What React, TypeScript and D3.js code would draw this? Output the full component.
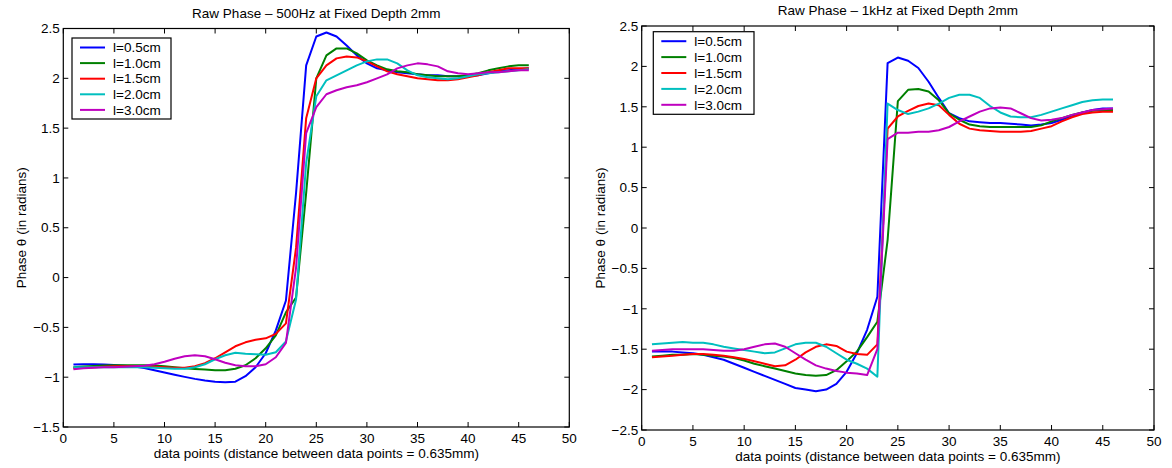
import React from "react";
import * as d3 from "d3";

const seriesNames = ["l=0.5cm", "l=1.0cm", "l=1.5cm", "l=2.0cm", "l=3.0cm"];
const seriesColors = ["#0000ff", "#008000", "#ff0000", "#00bfbf", "#bf00bf"];

// 500Hz
const hz500_05 = [-0.873, -0.87, -0.87, -0.872, -0.878, -0.885, -0.893, -0.907, -0.93, -0.953, -0.975, -0.997, -1.017, -1.033, -1.045, -1.05, -1.045, -0.99, -0.9, -0.76, -0.53, -0.23, 0.85, 2.13, 2.42, 2.46, 2.42, 2.33, 2.23, 2.15, 2.1, 2.08, 2.06, 2.05, 2.04, 2.03, 2.03, 2.02, 2.02, 2.02, 2.03, 2.05, 2.07, 2.08, 2.09, 2.1];
const hz500_10 = [-0.9, -0.893, -0.887, -0.883, -0.88, -0.88, -0.88, -0.88, -0.883, -0.89, -0.9, -0.91, -0.917, -0.923, -0.93, -0.93, -0.915, -0.88, -0.81, -0.71, -0.58, -0.35, -0.2, 0.85, 2.0, 2.23, 2.3, 2.3, 2.25, 2.18, 2.13, 2.09, 2.07, 2.06, 2.04, 2.03, 2.02, 2.02, 2.02, 2.03, 2.05, 2.08, 2.1, 2.12, 2.13, 2.13];
const hz500_15 = [-0.91, -0.905, -0.9, -0.895, -0.89, -0.89, -0.89, -0.89, -0.895, -0.9, -0.905, -0.905, -0.89, -0.86, -0.81, -0.75, -0.69, -0.65, -0.625, -0.61, -0.565, -0.46, 0.3, 1.6, 2.0, 2.13, 2.2, 2.22, 2.21, 2.17, 2.12, 2.07, 2.04, 2.02, 2.0, 1.99, 1.98, 1.98, 1.99, 2.01, 2.03, 2.06, 2.08, 2.1, 2.1, 2.1];
const hz500_20 = [-0.9, -0.9, -0.9, -0.9, -0.9, -0.9, -0.9, -0.9, -0.905, -0.91, -0.915, -0.915, -0.9, -0.87, -0.82, -0.78, -0.755, -0.765, -0.77, -0.775, -0.75, -0.64, -0.22, 1.15, 1.82, 1.98, 2.03, 2.08, 2.13, 2.17, 2.19, 2.19, 2.15, 2.08, 2.03, 2.01, 2.0, 1.99, 2.0, 2.02, 2.04, 2.05, 2.06, 2.07, 2.08, 2.09];
const hz500_30 = [-0.92, -0.91, -0.905, -0.9, -0.9, -0.895, -0.89, -0.885, -0.87, -0.845, -0.815, -0.79, -0.78, -0.79, -0.82, -0.855, -0.88, -0.89, -0.89, -0.87, -0.8, -0.655, 0.1, 1.45, 1.71, 1.84, 1.88, 1.91, 1.93, 1.96, 2.0, 2.04, 2.1, 2.13, 2.15, 2.14, 2.12, 2.07, 2.05, 2.04, 2.05, 2.06, 2.06, 2.07, 2.08, 2.08];

// 1kHz
const khz1_05 = [-1.53, -1.53, -1.53, -1.54, -1.55, -1.57, -1.6, -1.63, -1.68, -1.73, -1.78, -1.83, -1.88, -1.93, -1.98, -2.0, -2.02, -2.0, -1.93, -1.78, -1.55, -1.26, -0.85, 2.04, 2.11, 2.07, 1.98, 1.81, 1.61, 1.42, 1.36, 1.32, 1.31, 1.3, 1.3, 1.29, 1.28, 1.27, 1.28, 1.3, 1.34, 1.39, 1.43, 1.46, 1.48, 1.48];
const khz1_10 = [-1.59, -1.58, -1.57, -1.57, -1.56, -1.57, -1.58, -1.59, -1.61, -1.64, -1.68, -1.71, -1.74, -1.77, -1.8, -1.82, -1.83, -1.82, -1.76, -1.65, -1.53, -1.35, -1.16, -0.15, 1.57, 1.71, 1.72, 1.69, 1.58, 1.42, 1.34, 1.28, 1.26, 1.25, 1.25, 1.25, 1.25, 1.25, 1.27, 1.32, 1.36, 1.4, 1.43, 1.45, 1.46, 1.46];
const khz1_15 = [-1.6, -1.59, -1.58, -1.57, -1.56, -1.56, -1.57, -1.58, -1.6, -1.62, -1.65, -1.68, -1.71, -1.7, -1.63, -1.54, -1.47, -1.44, -1.46, -1.53, -1.56, -1.57, -1.44, 1.23, 1.38, 1.45, 1.51, 1.54, 1.52, 1.4, 1.29, 1.23, 1.21, 1.2, 1.19, 1.19, 1.19, 1.2, 1.23, 1.26, 1.32, 1.37, 1.41, 1.43, 1.44, 1.44];
const khz1_20 = [-1.44, -1.43, -1.42, -1.41, -1.42, -1.42, -1.44, -1.47, -1.49, -1.51, -1.53, -1.55, -1.54, -1.49, -1.44, -1.42, -1.42, -1.47, -1.55, -1.63, -1.68, -1.74, -1.84, 1.54, 1.46, 1.41, 1.44, 1.48, 1.54, 1.61, 1.65, 1.65, 1.61, 1.51, 1.43, 1.38, 1.37, 1.37, 1.4, 1.44, 1.48, 1.52, 1.56, 1.58, 1.59, 1.59];
const khz1_30 = [-1.52, -1.51, -1.5, -1.5, -1.5, -1.5, -1.51, -1.52, -1.52, -1.5, -1.47, -1.44, -1.43, -1.47, -1.55, -1.63, -1.7, -1.74, -1.77, -1.79, -1.8, -1.82, -1.5, 1.1, 1.18, 1.18, 1.19, 1.19, 1.21, 1.25, 1.32, 1.38, 1.44, 1.48, 1.49, 1.48, 1.42, 1.36, 1.33, 1.34, 1.36, 1.4, 1.43, 1.46, 1.47, 1.48];

const xTicks = [0, 5, 10, 15, 20, 25, 30, 35, 40, 45, 50];
const yTicksLeft = [-1.5, -1, -0.5, 0, 0.5, 1, 1.5, 2, 2.5];
const yTicksRight = [-2.5, -2, -1.5, -1, -0.5, 0, 0.5, 1, 1.5, 2, 2.5];

const titleLeft = "Raw Phase \u2013 500Hz at Fixed Depth 2mm";
const titleRight = "Raw Phase \u2013 1kHz at Fixed Depth 2mm";
const xLabel = "data points (distance between data points = 0.635mm)";
const yLabel = "Phase \u03b8 (in radians)";

const FONT = "'Liberation Sans', Arial, Helvetica, sans-serif";
const FS = 13.5;

function fmt(v: number) {
  const s = String(Math.abs(v));
  return v < 0 ? "\u2212" + s : s;
}

type ChartProps = {
  left: number; right: number; top: number; bottom: number;
  yDomain: [number, number]; yTicks: number[];
  series: number[][]; title: string; titleY: number;
  legendX: number; legendY: number; legendW: number; legendH: number; legendRow: number;
};

function Chart(p: ChartProps) {
  const x = d3.scaleLinear().domain([0, 50]).range([p.left, p.right]);
  const y = d3.scaleLinear().domain(p.yDomain).range([p.bottom, p.top]);
  const line = d3.line<number>().x((_, i) => x(i + 1)).y((d) => y(d));
  const tl = 5;
  const cx = (p.left + p.right) / 2;
  const cy = (p.top + p.bottom) / 2;
  return (
    <g fontFamily={FONT} fill="#000">
      <defs>
        <clipPath id={`clip${Math.round(p.left)}`}>
          <rect x={p.left} y={p.top} width={p.right - p.left} height={p.bottom - p.top} />
        </clipPath>
      </defs>
      <g clipPath={`url(#clip${Math.round(p.left)})`}>
        {p.series.map((s, k) => (
          <path key={k} d={line(s) || ""} fill="none" stroke={seriesColors[k]} strokeWidth={2} strokeLinejoin="round" />
        ))}
      </g>
      <rect x={p.left} y={p.top} width={p.right - p.left} height={p.bottom - p.top} fill="none" stroke="#000" strokeWidth={1.2} />
      {xTicks.map((t) => (
        <g key={"x" + t}>
          <line x1={x(t)} x2={x(t)} y1={p.bottom} y2={p.bottom - tl} stroke="#000" />
          <line x1={x(t)} x2={x(t)} y1={p.top} y2={p.top + tl} stroke="#000" />
          <text x={x(t)} y={p.bottom + 16} textAnchor="middle" fontSize={FS}>{fmt(t)}</text>
        </g>
      ))}
      {p.yTicks.map((t) => (
        <g key={"y" + t}>
          <line x1={p.left} x2={p.left + tl} y1={y(t)} y2={y(t)} stroke="#000" />
          <line x1={p.right} x2={p.right - tl} y1={y(t)} y2={y(t)} stroke="#000" />
          <text x={p.left - 3.5} y={y(t) + 4.7} textAnchor="end" fontSize={FS}>{fmt(t)}</text>
        </g>
      ))}
      <text x={cx} y={p.titleY} textAnchor="middle" fontSize={FS}>{p.title}</text>
      <text x={cx} y={p.bottom + 30.5} textAnchor="middle" fontSize={FS}>{xLabel}</text>
      <text transform={`translate(${p.left - 37},${cy}) rotate(-90)`} textAnchor="middle" fontSize={FS}>{yLabel}</text>
      <rect x={p.legendX} y={p.legendY} width={p.legendW} height={p.legendH} fill="#fff" stroke="#000" strokeWidth={1.2} />
      {seriesNames.map((n, k) => {
        const ry = p.legendY + 9.5 + k * p.legendRow;
        return (
          <g key={n}>
            <line x1={p.legendX + 8} x2={p.legendX + 33} y1={ry} y2={ry} stroke={seriesColors[k]} strokeWidth={2} />
            <text x={p.legendX + 41} y={ry + 4.7} fontSize={FS}>{n}</text>
          </g>
        );
      })}
    </g>
  );
}

export default function App() {
  return (
    <div style={{ position: "absolute", left: 0, top: 0 }}>
      <svg width={1172} height={468} style={{ display: "block", background: "#fff" }}>
        <Chart left={63.3} right={569.3} top={28.5} bottom={427} yDomain={[-1.5, 2.5]} yTicks={yTicksLeft}
          series={[hz500_05, hz500_10, hz500_15, hz500_20, hz500_30]} title={titleLeft} titleY={18.3}
          legendX={72} legendY={38} legendW={99} legendH={81} legendRow={15.6} />
        <Chart left={641.7} right={1154} top={26} bottom={430} yDomain={[-2.5, 2.5]} yTicks={yTicksRight}
          series={[khz1_05, khz1_10, khz1_15, khz1_20, khz1_30]} title={titleRight} titleY={15}
          legendX={653.3} legendY={31.7} legendW={100.7} legendH={82.6} legendRow={15.9} />
      </svg>
    </div>
  );
}
